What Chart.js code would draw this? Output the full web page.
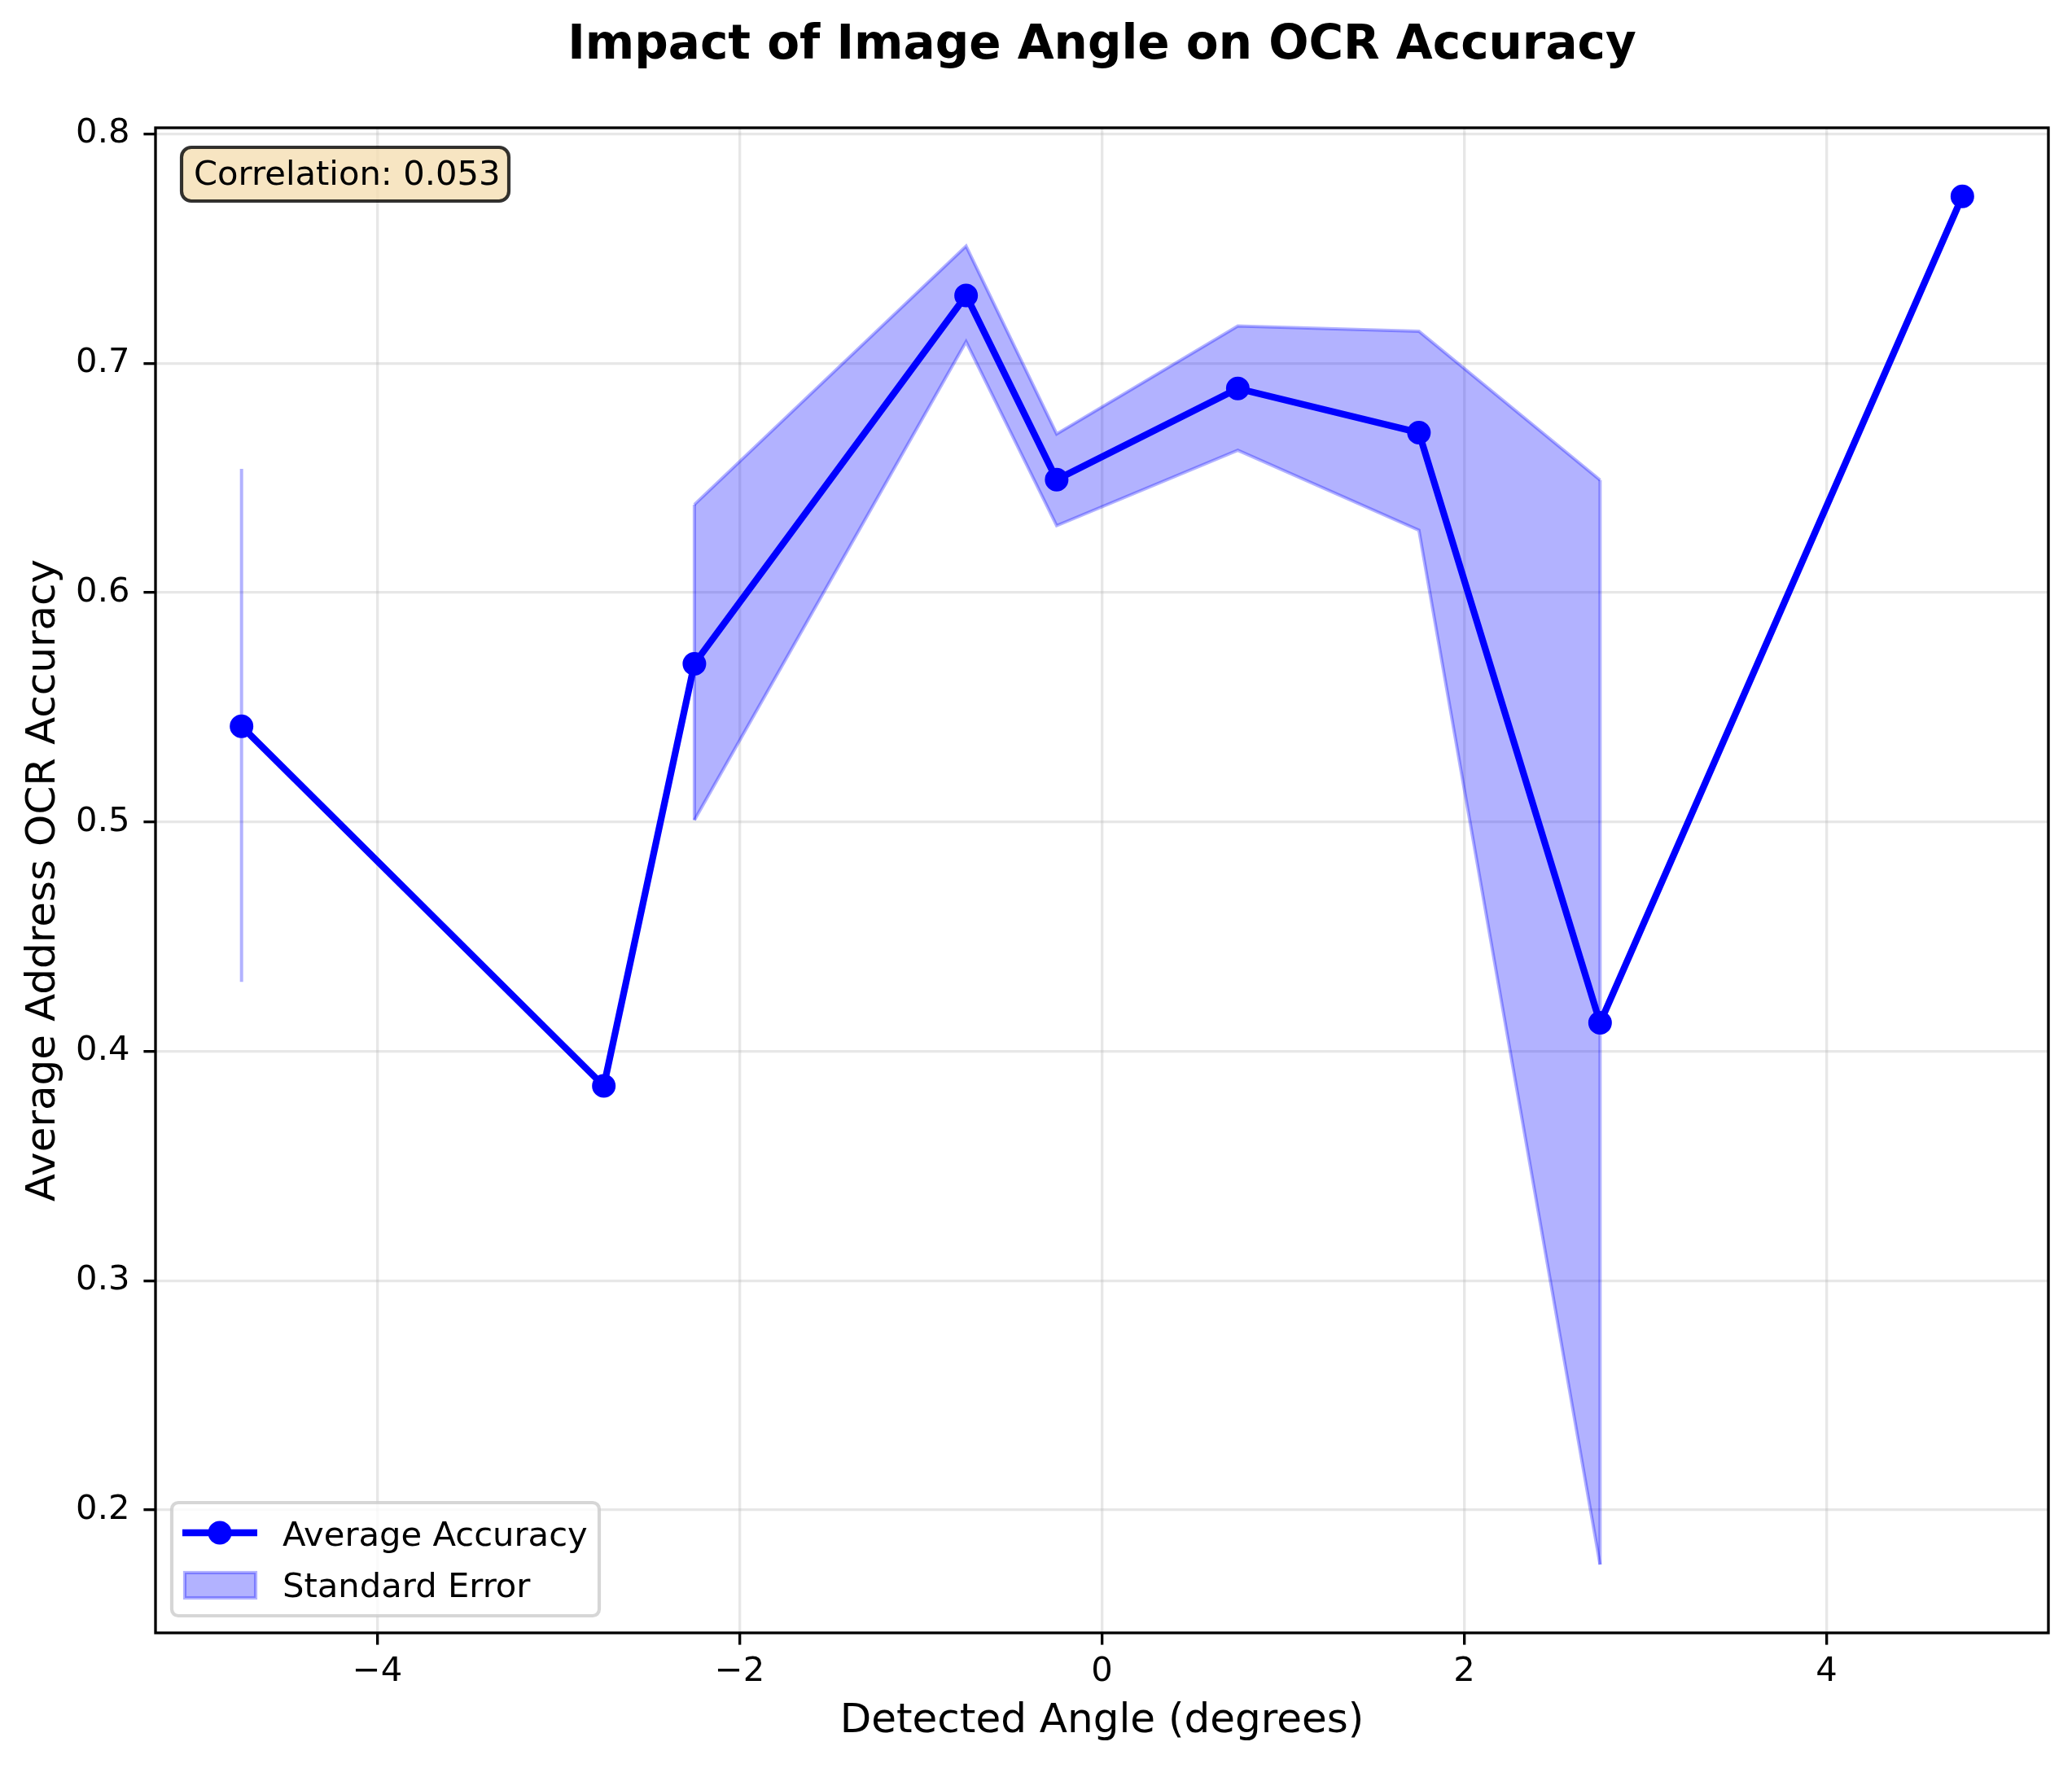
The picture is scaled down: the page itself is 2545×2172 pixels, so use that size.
<!DOCTYPE html>
<html>
<head>
<meta charset="utf-8">
<title>Impact of Image Angle on OCR Accuracy</title>
<script src="https://cdn.jsdelivr.net/npm/chart.js@4.4.1/dist/chart.umd.min.js"></script>
<style>
    html, body { margin: 0; padding: 0; background: #ffffff; }
    canvas { display: block; }
</style>
</head>
<body>
<canvas id="angleChart" width="2545" height="2172" style="width:2545px;height:2172px"></canvas>
<script>
// values
const detectedAngles = [-4.75, -2.75, -2.25, -0.75, -0.25, 0.75, 1.75, 2.75, 4.75];
const avgAccuracy = [0.5417, 0.3849, 0.5690, 0.7296, 0.6493, 0.6890, 0.6698, 0.4124, 0.7728];
const stdErrLower = [0.4303, null, 0.5008, 0.7094, 0.6292, 0.6621, 0.6272, 0.1762, null];
const stdErrUpper = [0.6540, null, 0.6384, 0.7511, 0.6692, 0.7163, 0.7140, 0.6491, null];
const xTickValues = [-4, -2, 0, 2, 4];
const yTickValues = [0.2, 0.3, 0.4, 0.5, 0.6, 0.7, 0.8];
const correlationText = 'Correlation: 0.053';

const FONT = "'DejaVu Sans', 'Liberation Sans', sans-serif";
const BLUE = '#0000ff';
const BAND = 'rgba(0, 0, 255, 0.3)';

Chart.defaults.font.family = FONT;
Chart.defaults.color = '#000000';

// split the error band into runs of consecutive non-empty values
function buildBandDatasets() {
    const sets = [];
    let run = [];
    const flush = () => {
        if (!run.length) return;
        const upper = run.map(i => ({ x: detectedAngles[i], y: stdErrUpper[i] }));
        const lower = run.map(i => ({ x: detectedAngles[i], y: stdErrLower[i] }));
        if (run.length > 1) {
            sets.push({
                label: 'Standard Error',
                legendPatch: true,
                data: upper,
                borderColor: BAND,
                backgroundColor: BAND,
                borderWidth: 4,
                pointRadius: 0,
                tension: 0,
                fill: '+1',
                order: 2
            });
            sets.push({
                label: 'Standard Error (lower)',
                data: lower,
                borderColor: BAND,
                borderWidth: 4,
                pointRadius: 0,
                tension: 0,
                fill: false,
                order: 2
            });
        }
        // closing edges of the polygon (a lone value is just a vertical stroke)
        const ends = run.length > 1 ? [0, run.length - 1] : [0];
        ends.forEach(k => {
            sets.push({
                label: 'Standard Error (edge)',
                data: [lower[k], upper[k]],
                borderColor: BAND,
                borderWidth: 4,
                pointRadius: 0,
                fill: false,
                order: 3
            });
        });
        run = [];
    };
    detectedAngles.forEach((_, i) => {
        if (stdErrLower[i] === null || stdErrUpper[i] === null) flush();
        else run.push(i);
    });
    flush();
    return sets;
}

function roundRectPath(ctx, x, y, w, h, r) {
    ctx.beginPath();
    ctx.moveTo(x + r, y);
    ctx.lineTo(x + w - r, y);
    ctx.arcTo(x + w, y, x + w, y + r, r);
    ctx.lineTo(x + w, y + h - r);
    ctx.arcTo(x + w, y + h, x + w - r, y + h, r);
    ctx.lineTo(x + r, y + h);
    ctx.arcTo(x, y + h, x, y + h - r, r);
    ctx.lineTo(x, y + r);
    ctx.arcTo(x, y, x + r, y, r);
    ctx.closePath();
}

const framePlugin = {
    id: 'frame',
    afterDatasetsDraw(chart) {
        const { ctx, chartArea: a } = chart;
        ctx.save();
        ctx.strokeStyle = '#000000';
        ctx.lineWidth = 3.33;
        ctx.strokeRect(a.left, a.top, a.right - a.left, a.bottom - a.top);
        ctx.restore();
    }
};

const annotationPlugin = {
    id: 'boxes',
    afterDraw(chart) {
        const { ctx, chartArea: a } = chart;
        ctx.save();
        ctx.font = `41.7px ${FONT}`;
        ctx.textBaseline = 'alphabetic';
        ctx.textAlign = 'left';

        // correlation text box, top left
        const cx = a.left + 32, cy = a.top + 24;
        roundRectPath(ctx, cx, cy, 402, 66, 12);
        ctx.fillStyle = 'rgba(245, 222, 179, 0.8)';
        ctx.fill();
        ctx.strokeStyle = 'rgba(0, 0, 0, 0.8)';
        ctx.lineWidth = 4.17;
        ctx.stroke();
        ctx.fillStyle = '#000000';
        ctx.fillText(correlationText, cx + 15, cy + 46);

        // legend, lower left
        const lineSet = chart.data.datasets.find(d => d.legendLine);
        const patchSet = chart.data.datasets.find(d => d.legendPatch);
        const L = a.left + 20, T = a.bottom - 21 - 139;
        roundRectPath(ctx, L, T, 525, 139, 8);
        ctx.fillStyle = 'rgba(255, 255, 255, 0.8)';
        ctx.fill();
        ctx.strokeStyle = 'rgba(204, 204, 204, 0.8)';
        ctx.lineWidth = 4.17;
        ctx.stroke();

        ctx.strokeStyle = lineSet.borderColor;
        ctx.lineWidth = lineSet.borderWidth;
        ctx.beginPath();
        ctx.moveTo(L + 13, T + 37);
        ctx.lineTo(L + 105, T + 37);
        ctx.stroke();
        ctx.fillStyle = lineSet.borderColor;
        ctx.beginPath();
        ctx.arc(L + 59, T + 37, 14.5, 0, Math.PI * 2);
        ctx.fill();
        ctx.fillStyle = '#000000';
        ctx.fillText(lineSet.label, L + 136, T + 53);

        ctx.fillStyle = patchSet.backgroundColor;
        ctx.fillRect(L + 16, T + 86, 87, 31);
        ctx.strokeStyle = patchSet.borderColor;
        ctx.lineWidth = 4.17;
        ctx.strokeRect(L + 16, T + 86, 87, 31);
        ctx.fillStyle = '#000000';
        ctx.fillText(patchSet.label, L + 136, T + 116);
        ctx.restore();
    }
};

const minusFormat = v => (v < 0 ? '\u2212' + Math.abs(v) : String(v));

const ctx = document.getElementById('angleChart').getContext('2d');
const angleChart = new Chart(ctx, {
    type: 'line',
    data: {
        datasets: [
            {
                label: 'Average Accuracy',
                legendLine: true,
                data: detectedAngles.map((a, i) => ({ x: a, y: avgAccuracy[i] })),
                borderColor: BLUE,
                backgroundColor: BLUE,
                borderWidth: 8.3,
                pointRadius: 12.5,
                pointBorderWidth: 4,
                pointBackgroundColor: BLUE,
                pointBorderColor: BLUE,
                tension: 0,
                fill: false,
                order: 0
            },
            ...buildBandDatasets()
        ]
    },
    options: {
        responsive: false,
        devicePixelRatio: 1,
        animation: false,
        layout: {
            padding: { left: 0, right: 29, top: 0, bottom: 0 }
        },
        plugins: {
            legend: { display: false },
            tooltip: { enabled: false },
            title: {
                display: true,
                fullSize: false,
                text: 'Impact of Image Angle on OCR Accuracy',
                color: '#000000',
                font: { size: 58, weight: 'bold', lineHeight: 1.2 },
                padding: { top: 22, bottom: 65.4 }
            }
        },
        scales: {
            x: {
                type: 'linear',
                min: -5.225,
                max: 5.225,
                afterBuildTicks: scale => {
                    scale.ticks = xTickValues.map(v => ({ value: v }));
                },
                afterFit: scale => { scale.height = 166; },
                grid: {
                    color: 'rgba(176, 176, 176, 0.3)',
                    lineWidth: 3.33,
                    drawTicks: true,
                    tickLength: 14.6,
                    tickColor: '#000000',
                    tickWidth: 3.33
                },
                border: { display: false },
                ticks: {
                    autoSkip: false,
                    maxRotation: 0,
                    padding: 9,
                    color: '#000000',
                    font: { size: 41.7, lineHeight: 1.2 },
                    callback: v => minusFormat(v)
                },
                title: {
                    display: true,
                    text: 'Detected Angle (degrees)',
                    color: '#000000',
                    font: { size: 50, lineHeight: 1.2 },
                    padding: { top: 0, bottom: 27 }
                }
            },
            y: {
                type: 'linear',
                min: 0.1464,
                max: 0.8027,
                afterBuildTicks: scale => {
                    scale.ticks = yTickValues.map(v => ({ value: v }));
                },
                afterFit: scale => { scale.width = 191; },
                grid: {
                    color: 'rgba(176, 176, 176, 0.3)',
                    lineWidth: 3.33,
                    drawTicks: true,
                    tickLength: 14.6,
                    tickColor: '#000000',
                    tickWidth: 3.33
                },
                border: { display: false },
                ticks: {
                    autoSkip: false,
                    padding: 17,
                    color: '#000000',
                    font: { size: 41.7, lineHeight: 1.2 },
                    callback: v => v.toFixed(1)
                },
                title: {
                    display: true,
                    text: 'Average Address OCR Accuracy',
                    color: '#000000',
                    font: { size: 50, lineHeight: 1.2 },
                    padding: { top: 24, bottom: 0 }
                }
            }
        }
    },
    plugins: [framePlugin, annotationPlugin]
});
</script>
</body>
</html>
